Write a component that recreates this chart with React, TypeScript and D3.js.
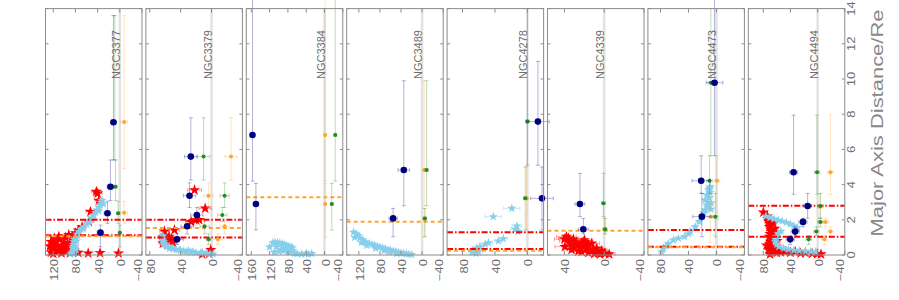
import React, { useRef, useEffect } from 'react';
import * as d3 from 'd3';

const galaxies = ['NGC3377', 'NGC3379', 'NGC3384', 'NGC3489', 'NGC4278', 'NGC4339', 'NGC4473', 'NGC4494'];
const valueMax = [134, 85, 171, 143, 99, 57, 98, 102];
const valueMin = [-40, -40, -40, -40, -20, -40, -40, -40];
const valueTicks = [
  [120, 80, 40, 0, -40],
  [80, 40, 0, -40],
  [160, 120, 80, 40, 0, -40],
  [120, 80, 40, 0, -40],
  [80, 40, 0],
  [40, 0, -40],
  [80, 40, 0, -40],
  [80, 40, 0, -40],
];
const distanceTicks = [0, 2, 4, 6, 8, 10, 12, 14];

// binned points: [distance, value, distance low, distance high, value error]
const navyBins = [
  [[7.54, 11.5, 5.4, 13.6, 4], [3.88, 16.9, 3.1, 5.4, 6], [2.37, 22.3, 1.8, 3.05, 6], [1.27, 35, 0.47, 1.7, 6]],
  [[5.59, 26.8, 4.26, 7.8, 8], [3.37, 28.5, 2.7, 4.1, 8], [2.27, 19, 1.9, 2.7, 8], [1.63, 31.6, 1.2, 1.9, 8], [0.89, 44.6, 0.6, 1.2, 8]],
  [[6.82, 157.4, 4.2, 15, 5], [2.9, 150, 1.42, 4.07, 5]],
  [[4.83, 34.7, 2.8, 9.9, 11], [2.08, 55, 1.04, 2.65, 8]],
  [[7.58, -13, 5.1, 11, 14], [3.22, -18, 1.42, 5.0, 14]],
  [[2.9, 24.4, 2.18, 4.64, 5], [1.46, 21, 1.2, 2.08, 5]],
  [[9.79, 2.7, 5.64, 16, 12], [4.22, 21.8, 3.5, 5.64, 13], [2.18, 20.8, 1.04, 3.5, 13]],
  [[4.7, 35.4, 3.45, 7.95, 6], [2.78, 14.7, 2.09, 3.5, 6], [1.88, 21.5, 1.6, 2.09, 6], [1.33, 33, 1.1, 1.6, 6], [0.89, 40.3, 0.6, 1.1, 6]],
];
const greenBins = [
  [[7.54, 9, 5.4, 13.6, 3], [3.88, 7.8, 3.1, 5.4, 3], [2.37, 3, 1.8, 3.05, 3], [1.27, 0, 0.47, 1.7, 3]],
  [[5.59, 10.3, 4.26, 7.8, 8], [3.37, -17, 2.7, 4.1, 6], [2.27, -14, 1.9, 2.7, 6], [1.63, 9, 1.2, 1.9, 6], [0.89, 3.8, 0.6, 1.2, 3]],
  [[6.82, -23.5, 4.2, 15, 3], [2.9, -16, 1.42, 4.07, 3]],
  [[4.83, -8.5, 2.8, 9.9, 3], [2.08, -5.4, 1.04, 2.65, 3]],
  [[7.58, -0.2, 5.1, 14, 2], [3.22, 2.7, 1.42, 5.0, 2]],
  [[2.94, 0.8, 2.18, 4.64, 2], [1.46, -0.9, 1.2, 2.08, 2]],
  [[9.79, 7.9, 5.64, 14, 4], [4.22, 9.9, 3.5, 5.64, 4], [2.18, 1.7, 1.04, 3.5, 4]],
  [[4.7, 0.8, 3.45, 7.95, 4], [2.78, -4, 2.09, 3.5, 4], [1.88, -4, 1.6, 2.09, 4], [1.33, 1.9, 1.1, 1.6, 4], [0.89, 13.2, 0.6, 1.1, 4]],
];
const orangeBins = [
  [[7.56, -7.9, 4.9, 13.6, 6], [2.4, -7.9, 1.8, 3.05, 6]],
  [[5.59, -25.3, 4.26, 7.8, 8], [3.37, 4, 2.7, 4.1, 6], [1.63, -17, 1.2, 1.9, 6], [0.89, -8.2, 0.6, 1.2, 6]],
  [[6.82, -1.5, 4.2, 16, 2], [2.9, -1.5, 1.0, 4.07, 2]],
  [[4.83, -4, 2.8, 9.9, 2], [2.08, -4.2, 1.04, 2.65, 2]],
  [[7.58, 0, 5.1, 14, 2], [3.22, 1, 1.42, 5.0, 2]],
  [[1.46, -0.5, 1.2, 2.08, 2]],
  [[4.22, -0.8, 2.0, 5.64, 4], [2.18, 8.9, 0.7, 3.5, 4]],
  [[4.7, -18.9, 3.45, 7.95, 4], [2.74, -4, 2.09, 3.5, 4], [1.88, -11.5, 1.6, 2.09, 4], [1.33, -18.9, 1.1, 1.6, 4], [0.89, -10, 0.6, 1.1, 4]],
];

// individual stars: [distance, value, value error]
const redStars = [
  [[3.6, 42.3, 9], [3.5, 40, 8], [3.09, 38, 7], [2.46, 53, 8], [1.9, 56, 7], [1.6, 68, 6], [1.4, 75, 6], [1.25, 80, 6],
    [1.15, 92, 5], [1.0, 98, 5], [0.9, 108, 5], [0.8, 115, 5], [0.7, 100, 5], [0.6, 120, 5], [0.55, 105, 5], [0.5, 112, 5],
    [0.45, 95, 5], [0.4, 118, 5], [0.35, 102, 5], [0.3, 122, 5], [0.25, 110, 5], [0.2, 97, 5], [0.2, 116, 5], [0.15, 124, 5],
    [0.1, 105, 5], [0.08, 120, 5], [0.65, 90, 5], [0.85, 85, 5], [1.05, 110, 5], [0.95, 118, 5], [0.3, 88, 5], [0.12, 90, 5],
    [0.5, 126, 5], [0.75, 124, 5], [0.13, 75, 4], [0.1, 57, 4], [0.12, 35.6, 4], [0.1, 2.4, 4]],
  [[3.69, 22, 9], [2.65, 8.2, 8], [1.99, 20, 7], [1.89, 26.4, 7], [2.0, 16, 7], [1.42, 48, 7], [1.35, 61, 6], [1.0, 63, 5],
    [0.95, 58, 5], [0.9, 52, 5], [0.85, 62, 5], [0.8, 55, 5], [0.75, 60, 5], [0.7, 50, 5], [0.66, 63, 5], [0.6, 57, 5],
    [1.05, 55, 5], [1.1, 60, 5], [0.05, 12, 4], [0.08, 3, 4], [0.3, 1, 4]],
  [],
  [],
  [],
  [[1.04, 38, 10], [0.95, 36, 10], [0.89, 31, 8], [0.85, 20, 8], [0.8, 35, 10], [0.75, 19.3, 8], [0.7, 28, 8], [0.66, 12.6, 8],
    [0.6, 33, 9], [0.57, 26, 8], [0.5, 22, 8], [0.47, 39.5, 10], [0.42, 30, 8], [0.38, 7.5, 6], [0.35, 18, 7], [0.3, 32.8, 8],
    [0.28, 12, 6], [0.25, 2.5, 6], [0.22, 26, 7], [0.19, 22.7, 7], [0.16, 9, 6], [0.13, 16, 6], [0.13, 5.9, 6], [0.1, 0, 6],
    [0.08, -0.9, 6], [0.07, 10, 6], [0.05, 4, 6], [0.05, -5, 6], [0.9, 40, 10], [0.7, 22, 8], [0.55, 16, 7], [0.45, 24, 7]],
  [],
  [[2.43, 79.8, 5], [2.2, 74, 5], [2.05, 73, 5], [1.9, 72.4, 5], [1.75, 70, 5], [1.6, 71, 5], [1.45, 69, 5], [1.32, 67.4, 5],
    [1.2, 70, 5], [1.04, 71, 5], [0.9, 68, 5], [0.76, 69.7, 5], [0.62, 71, 5], [0.47, 70, 5], [0.38, 67, 5], [0.28, 65, 5],
    [0.2, 62, 5], [0.13, 60, 5], [0.19, 47.7, 5], [0.19, 33, 5], [0.13, 18, 5], [0.08, 8.2, 5], [0.06, 0.8, 5], [0.1, 25, 5],
    [0.15, 40, 5], [0.16, 54, 5], [1.1, 63, 5], [0.95, 62, 5], [0.8, 60, 5], [0.65, 64, 5], [0.5, 62, 5], [0.35, 58, 5],
    [1.5, 63, 5], [1.8, 65, 5], [0.05, 70, 5], [0.3, 72, 5], [0.55, 75, 5], [0.05, -5, 5]],
];
const blueStars = [
  [[3.1, 32, 4], [3.0, 34, 4], [2.84, 35, 4], [2.7, 38, 4], [2.56, 41, 4], [2.42, 44, 4], [2.27, 47, 4], [2.1, 52, 4],
    [1.9, 56, 4], [1.75, 60, 4], [1.61, 65, 4], [1.45, 70, 4], [1.32, 74, 4], [1.18, 77, 4], [1.04, 80, 4], [0.9, 82, 4],
    [0.76, 83, 4], [0.6, 84, 4], [0.47, 85, 4], [0.35, 84, 4], [0.24, 83, 4], [0.15, 86, 4], [0.06, 89, 4], [2.9, 30, 4],
    [2.5, 38, 4], [2.0, 50, 4], [1.5, 66, 4], [1.1, 76, 4], [0.8, 78, 4], [0.5, 80, 4], [0.3, 79, 4], [0.1, 82, 4]],
  [[1.1, 63, 3], [0.95, 62.3, 3], [0.85, 63, 3], [0.75, 62, 3], [0.65, 61.5, 3], [0.57, 61, 3], [0.48, 58, 3], [0.38, 54.5, 3],
    [0.34, 50, 3], [0.3, 46, 3], [0.26, 40, 3], [0.22, 36, 3], [0.19, 33, 3], [0.16, 27, 3], [0.13, 20, 3], [0.11, 14, 3],
    [0.09, 7, 3], [0.07, 2, 3], [0.05, -2, 3], [0.5, 55, 3], [0.4, 50, 3], [0.3, 42, 3], [0.25, 30, 3], [0.2, 24, 3], [0.15, 12, 3]],
  [[0.7, 113, 3], [0.72, 108, 3], [0.7, 103, 3], [0.68, 98, 3], [0.65, 93, 3], [0.6, 88, 3], [0.55, 83, 3], [0.5, 78, 3],
    [0.45, 73, 3], [0.4, 70, 3], [0.15, 110, 3], [0.2, 100, 3], [0.3, 95, 3], [0.25, 90, 3], [0.3, 85, 3], [0.2, 80, 3],
    [0.15, 75, 3], [0.25, 70, 3], [0.1, 65, 3], [0.08, 60, 3], [0.05, 50, 3], [0.1, 40, 3], [0.05, 35, 3], [0.08, 28, 3],
    [0.45, 120, 3], [0.45, 105, 3], [0.4, 90, 3]],
  [[1.3, 130, 3], [1.2, 125, 3], [1.1, 120, 3], [1.0, 128, 3], [0.95, 118, 3], [0.85, 112, 3], [0.75, 108, 3], [0.65, 100, 3],
    [0.6, 95, 3], [0.55, 90, 3], [0.5, 85, 3], [0.45, 80, 3], [0.4, 75, 3], [0.35, 70, 3], [0.3, 65, 3], [0.28, 60, 3],
    [0.22, 55, 3], [0.2, 50, 3], [0.15, 45, 3], [0.12, 40, 3], [0.1, 35, 3], [0.07, 30, 3], [0.05, 25, 3], [0.03, 20, 3],
    [0.7, 115, 3], [0.55, 105, 3], [0.38, 88, 3], [0.25, 72, 3], [0.18, 62, 3], [0.08, 48, 3]],
  [[2.65, 19.2, 10], [2.18, 42, 10], [1.65, 13, 6], [1.46, 15, 6], [1.33, 11.7, 6], [0.93, 29.6, 5], [0.8, 35.8, 5], [0.7, 48, 5],
    [0.61, 52, 5], [0.47, 58.5, 5], [0.38, 62.6, 5], [0.28, 66.8, 5], [0.19, 60.6, 5], [0.15, 68, 5], [0.1, 63, 5]],
  [],
  [[0.19, 78.3, 4], [0.38, 76, 4], [0.66, 68.8, 4], [0.85, 61.6, 4], [0.95, 54.4, 4], [1.04, 45.8, 4], [1.33, 37.6, 4], [1.61, 30.4, 4],
    [1.9, 24.7, 4], [2.18, 20.8, 4], [2.4, 18, 4], [2.56, 16, 4], [2.7, 12, 4], [2.84, 13.6, 4], [2.95, 8, 4], [3.13, 16, 4],
    [3.25, 10, 4], [3.41, 13.6, 4], [3.55, 9, 4], [3.69, 11.3, 4], [3.8, 10, 4], [3.88, 8.9, 4], [2.6, 8, 4], [3.0, 12, 4],
    [1.2, 40, 4], [0.5, 72, 4]],
  [[2.2, 76, 4], [2.12, 70, 4], [2.05, 64, 4], [1.98, 58, 4], [1.92, 52, 4], [1.85, 46, 4], [1.75, 40, 4], [1.65, 35, 4],
    [1.55, 30, 4], [1.35, 54, 4], [1.2, 58, 4], [1.05, 61, 4], [0.9, 62, 4], [0.75, 62, 4], [0.6, 60, 4], [0.48, 57, 4],
    [0.38, 50, 4], [0.32, 43, 4], [0.27, 35, 4], [0.24, 27, 4], [0.22, 18, 4], [0.2, 10, 4], [0.18, 3, 4]],
];

// horizontal reference radii
const redLines = [[2.0, 1.12], [2.0, 1.0], [], [], [1.29, 0.34], [], [1.42, 0.47], [2.8, 1.04]];
const orangeLines = [[1.06], [1.53], [3.28], [1.89], [0.24], [1.38], [0.44], []];

const textColor = '#6e6e6e';
const frameColor = '#8c8c8c';

const App = () => {
  const svgRef = useRef<SVGSVGElement>(null);

  useEffect(() => {
    const svg = d3.select(svgRef.current);
    svg.selectAll('*').remove();

    const top = 8.6;
    const bottom = 255;
    const panelW = 96.5;
    const y = d3.scaleLinear().domain([0, 14]).range([bottom, top]);

    const errLine = (g: any, x1: number, y1: number, x2: number, y2: number) => {
      g.append('line').attr('x1', x1).attr('y1', y1).attr('x2', x2).attr('y2', y2);
    };

    galaxies.forEach((name, i) => {
      const x0 = 45.5 + i * 100.4;
      const x = d3.scaleLinear().domain([valueMax[i], valueMin[i]]).range([x0, x0 + panelW]);
      const g = svg.append('g');

      // zero line
      g.append('line')
        .attr('x1', x(0)).attr('x2', x(0)).attr('y1', y(0)).attr('y2', y(14))
        .attr('stroke', '#e2e2e2').attr('stroke-width', 2.5);

      const drawStars = (pts: number[][], color: string, size: number, op: number) => {
        const eb = g.append('g').attr('stroke', color).attr('stroke-opacity', op).attr('stroke-width', 1);
        pts.forEach(([d, v, e]) => {
          errLine(eb, x(v - e), y(d), x(v + e), y(d));
          errLine(eb, x(v - e), y(d) - 2, x(v - e), y(d) + 2);
          errLine(eb, x(v + e), y(d) - 2, x(v + e), y(d) + 2);
        });
        g.append('g').selectAll('path')
          .data(pts)
          .enter()
          .append('path')
          .attr('d', d3.symbol(d3.symbolStar, size)())
          .attr('transform', (p) => `translate(${x(p[1])},${y(p[0])})`)
          .attr('fill', color);
      };

      const drawBins = (pts: number[][], color: string, r: number, op: number) => {
        const eb = g.append('g').attr('stroke', color).attr('stroke-opacity', op).attr('stroke-width', 1);
        pts.forEach(([d, v, lo, hi, e]) => {
          errLine(eb, x(v), y(lo), x(v), y(hi));
          errLine(eb, x(v) - 2, y(lo), x(v) + 2, y(lo));
          errLine(eb, x(v) - 2, y(hi), x(v) + 2, y(hi));
          errLine(eb, x(v - e), y(d), x(v + e), y(d));
          errLine(eb, x(v - e), y(d) - 2, x(v - e), y(d) + 2);
          errLine(eb, x(v + e), y(d) - 2, x(v + e), y(d) + 2);
        });
        g.append('g').selectAll('circle')
          .data(pts)
          .enter()
          .append('circle')
          .attr('cx', (p) => x(p[1]))
          .attr('cy', (p) => y(p[0]))
          .attr('r', r)
          .attr('fill', color);
      };

      drawStars(redStars[i], '#ff0000', 40, 0.35);
      drawStars(blueStars[i], '#87ceeb', 26, 0.45);

      redLines[i].forEach((d) => {
        g.append('line')
          .attr('x1', x0).attr('x2', x0 + panelW).attr('y1', y(d)).attr('y2', y(d))
          .attr('stroke', '#ff0000').attr('stroke-width', 2)
          .attr('stroke-dasharray', '6,2,1.5,2');
      });
      orangeLines[i].forEach((d) => {
        g.append('line')
          .attr('x1', x0).attr('x2', x0 + panelW).attr('y1', y(d)).attr('y2', y(d))
          .attr('stroke', '#ffa530').attr('stroke-width', 2)
          .attr('stroke-dasharray', '4,3');
      });

      drawBins(orangeBins[i], '#ffa530', 2, 0.3);
      drawBins(greenBins[i], '#228b22', 2, 0.3);
      drawBins(navyBins[i], '#000080', 3.3, 0.3);

      // frame and ticks
      g.append('rect')
        .attr('x', x0).attr('y', top).attr('width', panelW).attr('height', bottom - top)
        .attr('fill', 'none').attr('stroke', frameColor).attr('stroke-width', 1);
      const ticks = g.append('g').attr('stroke', frameColor).attr('stroke-width', 1);
      valueTicks[i].forEach((t) => {
        errLine(ticks, x(t), top, x(t), top + 4);
        errLine(ticks, x(t), bottom, x(t), bottom - 4);
      });
      distanceTicks.forEach((t) => {
        errLine(ticks, x0, y(t), x0 + 3, y(t));
        errLine(ticks, x0 + panelW, y(t), x0 + panelW - 3, y(t));
      });

      // value tick labels, rotated like the rest of the figure
      valueTicks[i].forEach((t) => {
        g.append('text')
          .attr('transform', `translate(${x(t)},259) rotate(-90) scale(1.3,1)`)
          .attr('text-anchor', 'end')
          .attr('dy', t < 0 ? '-0.05em' : '0.5em')
          .attr('font-family', 'Liberation Sans, Arial, sans-serif')
          .attr('font-size', 10)
          .attr('fill', textColor)
          .text(t < 0 ? `\u2212${-t}` : `${t}`);
      });

      g.append('text')
        .attr('transform', `translate(${x(0)},${y(10)}) rotate(-90)`)
        .attr('text-anchor', 'start')
        .attr('font-family', 'Liberation Sans, Arial, sans-serif')
        .attr('font-size', 11)
        .attr('fill', textColor)
        .text(name);
    });

    // distance axis on the right
    distanceTicks.forEach((t) => {
      svg.append('text')
        .attr('transform', `translate(855,${y(t)}) rotate(-90) scale(1.3,1)`)
        .attr('text-anchor', 'middle')
        .attr('font-family', 'Liberation Sans, Arial, sans-serif')
        .attr('font-size', 10)
        .attr('fill', textColor)
        .text(t);
    });
    svg.append('text')
      .attr('transform', `translate(883,123) rotate(-90)`)
      .attr('text-anchor', 'middle')
      .attr('font-family', 'Liberation Sans, Arial, sans-serif')
      .attr('font-size', 16)
      .attr('textLength', 227)
      .attr('lengthAdjust', 'spacingAndGlyphs')
      .attr('fill', '#888')
      .text('Major Axis Distance/Re');
  }, []);

  return (
    <svg
      ref={svgRef}
      width={899}
      height={300}
      style={{ position: 'absolute', left: 0, top: 0, background: '#fff' }}
    />
  );
};

export default App;
